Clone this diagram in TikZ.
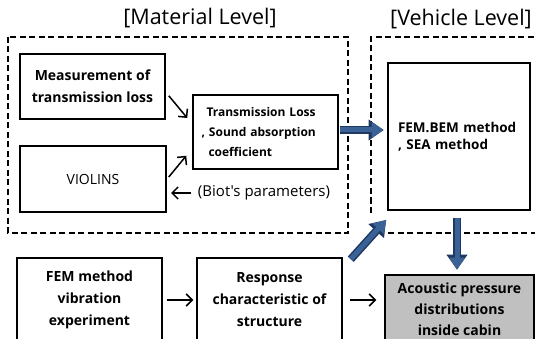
\documentclass[tikz,border=0pt]{standalone}
\usepackage{fontspec}
\setmainfont{Open Sans}
\newfontfamily\plainopen{Open Sans}
\usetikzlibrary{arrows.meta,calc}
\definecolor{arrowfill}{RGB}{58,98,150}
\definecolor{arrowdark}{RGB}{32,56,96}
\definecolor{cabingray}{RGB}{192,192,192}
\begin{document}
\begin{tikzpicture}[x=1pt,y=-1pt,
 box/.style={draw, line width=1.5pt, inner sep=0pt, align=center,
   font=\bfseries\fontsize{14}{22}\selectfont},
 grp/.style={draw, dash pattern=on 6pt off 3.5pt, line width=1.7pt},
 thinarrow/.style={line width=1.5pt, -{Straight Barb[length=6pt,width=12pt]}},
 bigarrow/.style={line width=5pt, draw=arrowfill, shorten >=1.6pt,
   -{Triangle[length=12pt,width=15pt]},
   preaction={draw=arrowdark, line width=8pt, -{Triangle[length=15pt,width=20pt]}}},
 title/.style={font=\fontsize{21.5}{24}\selectfont}
]
\useasboundingbox (0,0) rectangle (535,339);
\clip (0,0) rectangle (535,339);

% titles
\node[title] (mt) at (200,18) {[Material Level]};
\node[title] (vt) at (461,19) {[Vehicle Level]};

% group frames
\draw[grp] (8,37) rectangle (348,233);
\draw[grp] (371,213) -- (371,37) -- (545,37);
\draw[grp] (388,233) -- (545,233);

% boxes
\node[box, minimum width=145, minimum height=65] (meas) at (92.5,86.5) {Measurement of\\transmission loss};
\node[box, font=\fontsize{14}{16}\selectfont, minimum width=146, minimum height=66] (viol) at (93,179) {VIOLINS};
\node[box, font=\bfseries\fontsize{12}{20}\selectfont, align=left, text width=128, minimum width=145, minimum height=74] (tl) at (265.5,132)
  {\hspace*{5pt}Transmission Loss\\, Sound absorption\\\hspace*{7pt}coefficient};
\node[box, font=\bfseries\fontsize{13.5}{17}\selectfont, align=left, text width=122, minimum width=142, minimum height=147] (fb) at (459,136.5)
  {FEM.BEM method\\, SEA method};
\node[font=\plainopen\fontsize{15}{16}\selectfont] (biot) at (264,193) {(Biot's parameters)};
\coordinate (biotend) at (171,193);

\node[box, minimum width=145, minimum height=84] (fem) at (89.5,300) {FEM method\\vibration\\experiment};
\node[box, minimum width=145, minimum height=84] (resp) at (269.5,300) {Response\\characteristic of\\structure};
\node[box, fill=cabingray, minimum width=149, minimum height=68, font=\bfseries\fontsize{14}{21}\selectfont] (ac) at (459.5,309) {Acoustic pressure\\distributions\\inside cabin};

% thin arrows
\draw[thinarrow] ($(meas.south east)+(3,-24)$) -- ($(tl.west)+(-5,-14)$);
\draw[thinarrow] ($(viol.east)+(2,-2)$) -- ($(tl.south west)+(-6,-14)$);
\draw[thinarrow] ($(biot.west)+(-3,0)$) -- (biotend);
\draw[thinarrow] ($(fem.east)+(4,0)$) -- ($(resp.west)+(-3,0)$);
\draw[thinarrow] ($(resp.east)+(7,0)$) -- ($(ac.west|-resp.east)+(-8,0)$);

% thick blue arrows
\draw[bigarrow] ($(tl.east)+(1,-2)$) -- ($(fb.west)+(-2,-6.5)$);
\draw[bigarrow] ($(resp.north east)+(8,2)$) -- ($(fb.south west)+(0,8)$);
\draw[bigarrow] ($(fb.south)+(-2,7)$) -- ($(ac.north)+(-2.5,-3)$);
\end{tikzpicture}
\end{document}
